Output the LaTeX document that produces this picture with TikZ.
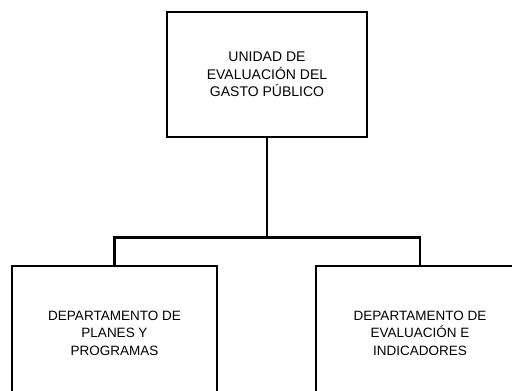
\documentclass[tikz,border=0pt]{standalone}
\usepackage{fontspec}
\setmainfont{Liberation Sans}
\begin{document}
\begin{tikzpicture}[x=1pt,y=-1pt,
  unitbox/.style={draw=black, line width=2.8pt, rectangle, align=center, inner sep=0pt},
  link/.style={draw=black, line width=2.8pt},
  toptext/.style={font=\fontsize{14}{17.5}\selectfont},
  bottext/.style={font=\fontsize{13.5}{17.5}\selectfont}]
\useasboundingbox (0,0) rectangle (512,391);
\fill[white] (0,0) rectangle (512,391);
\clip (0,0) rectangle (512,391);
\node[unitbox, toptext, minimum width=200pt, minimum height=125pt] (top) at (267,74.5)
  {UNIDAD DE\\EVALUACIÓN DEL\\GASTO PÚBLICO};
\node[unitbox, bottext, minimum width=205pt, minimum height=134pt, text depth=0pt] (left) at (114.5,333)
  {DEPARTAMENTO DE\\PLANES Y\\PROGRAMAS};
\node[unitbox, bottext, minimum width=208pt, minimum height=134pt] (right) at (420,333)
  {DEPARTAMENTO DE\\EVALUACIÓN E\\INDICADORES};
\draw[link] (top.south) -- ++(0,99) coordinate (j);
\draw[link] (left.north) |- (j) -| (right.north);
\end{tikzpicture}
\end{document}
